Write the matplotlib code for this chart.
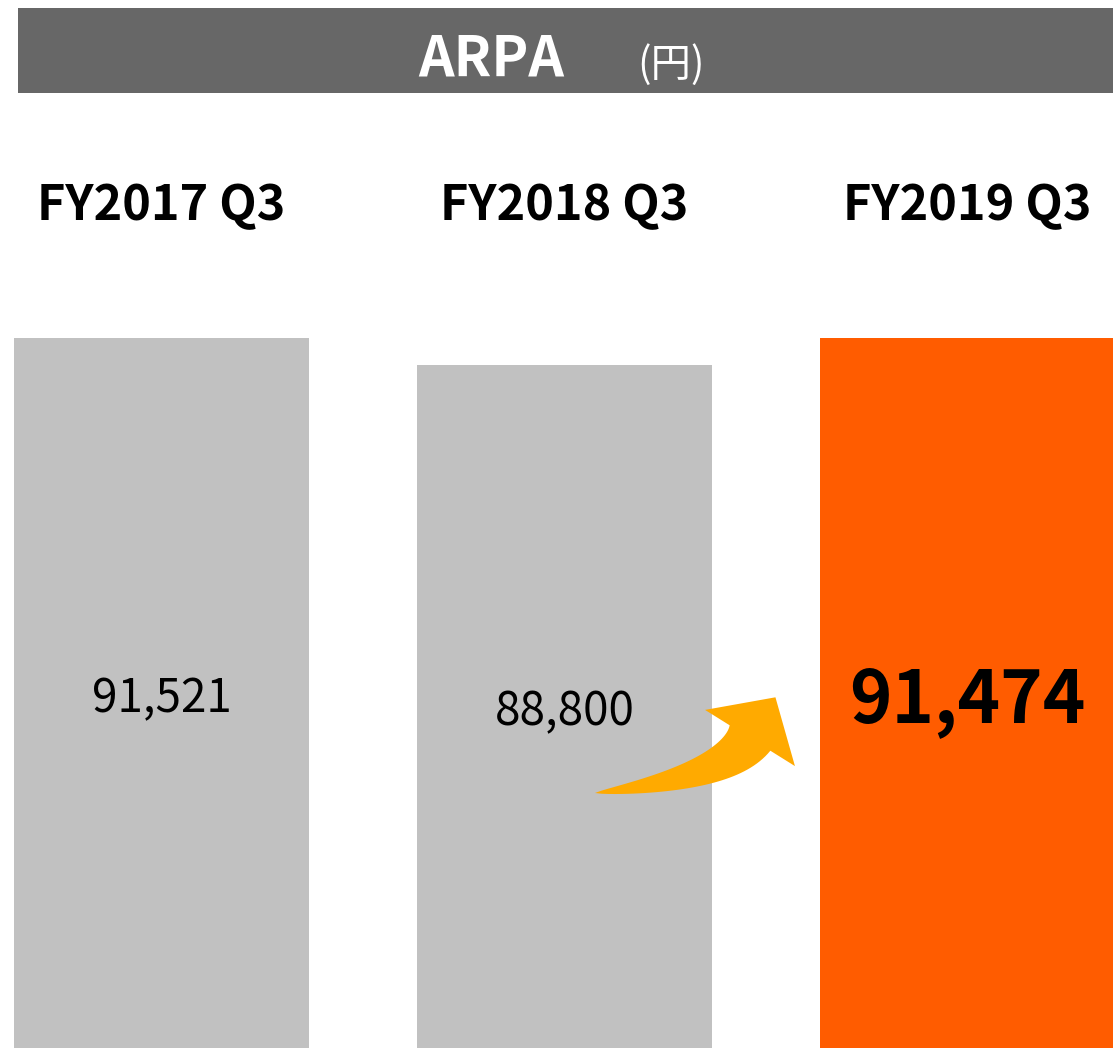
import matplotlib
matplotlib.use('Agg')
import numpy as np
from matplotlib import pyplot as plt
from matplotlib.patches import Rectangle, Polygon

plt.rcParams['font.family'] = ['Noto Sans CJK JP', 'DejaVu Sans']

###### Data ######
periods = ['FY2017 Q3', 'FY2018 Q3', 'FY2019 Q3']
arpa = [91521, 88800, 91474]
labels = ['91,521', '88,800', '91,474']
title = 'ARPA'
unit = '(円)'

###### Style ######
barColors = ['#C1C1C1', '#C1C1C1', '#FF5C00']
headerColor = '#676767'
arrowColor = '#FFAA00'

W, H = 1113, 1048
fig = plt.figure(figsize=(W / 100, H / 100), dpi=100)
ax = fig.add_axes([0, 0, 1, 1])

xs = range(len(periods))
ax.bar(xs, arpa, width=0.732, color=barColors, bottom=0)
ax.set_xlim(-0.4007, 2.361)
ax.set_ylim(19969, 125584)
ax.axis('off')

# header bar
fig.add_artist(Rectangle((18 / W, 1 - 93 / H), 1 - 18 / W, 85 / H,
                         transform=fig.transFigure, color=headerColor, lw=0))
fig.text(491 / W, 1 - 75 / H, title, color='white', fontsize=40,
         fontweight='bold', ha='center', va='baseline')
fig.text(671 / W, 1 - 77 / H, unit, color='white', fontsize=29,
         ha='center', va='baseline')

# period labels
for i, p in enumerate(periods):
    ax.text(i, 1 - 220 / H, p, transform=ax.get_xaxis_transform(),
            fontsize=35, fontweight='bold', ha='center', va='baseline')

# value labels
valueBase = [712, 725, 722]
for i, (lab, yb) in enumerate(zip(labels, valueBase)):
    last = i == len(labels) - 1
    ax.text(i, 1 - yb / H, lab, transform=ax.get_xaxis_transform(),
            fontsize=52 if last else 33,
            fontweight='bold' if last else 'normal',
            ha='center', va='baseline')


# growth arrow: tapered curved body + triangular head (decoration, pixel space)
def curvedArrow(tail, ctrl, base, headHalf, headLen, bodyHalf, n=40):
    tail, ctrl, base = map(np.asarray, (tail, ctrl, base))
    t = np.linspace(0, 1, n)[:, None]
    pts = (1 - t) ** 2 * tail + 2 * (1 - t) * t * ctrl + t ** 2 * base
    tan = 2 * (1 - t) * (ctrl - tail) + 2 * t * (base - ctrl)
    tan = tan / np.linalg.norm(tan, axis=1)[:, None]
    nrm = np.column_stack([tan[:, 1], -tan[:, 0]])
    w = bodyHalf * t ** 0.75
    top = pts + nrm * w
    bot = pts - nrm * w
    d, nd = tan[-1], nrm[-1]
    head = [base + nd * headHalf, base + d * headLen, base - nd * headHalf]
    return np.vstack([top, head, bot[::-1]])


shape = curvedArrow((595, 793), (725, 778), (750, 738), 53, 48, 24)
shape[:, 1] = H - shape[:, 1]
shape = ax.transData.inverted().transform(shape)
ax.add_patch(Polygon(shape, closed=True, color=arrowColor, lw=0))

plt.savefig('out.png', dpi=100)
